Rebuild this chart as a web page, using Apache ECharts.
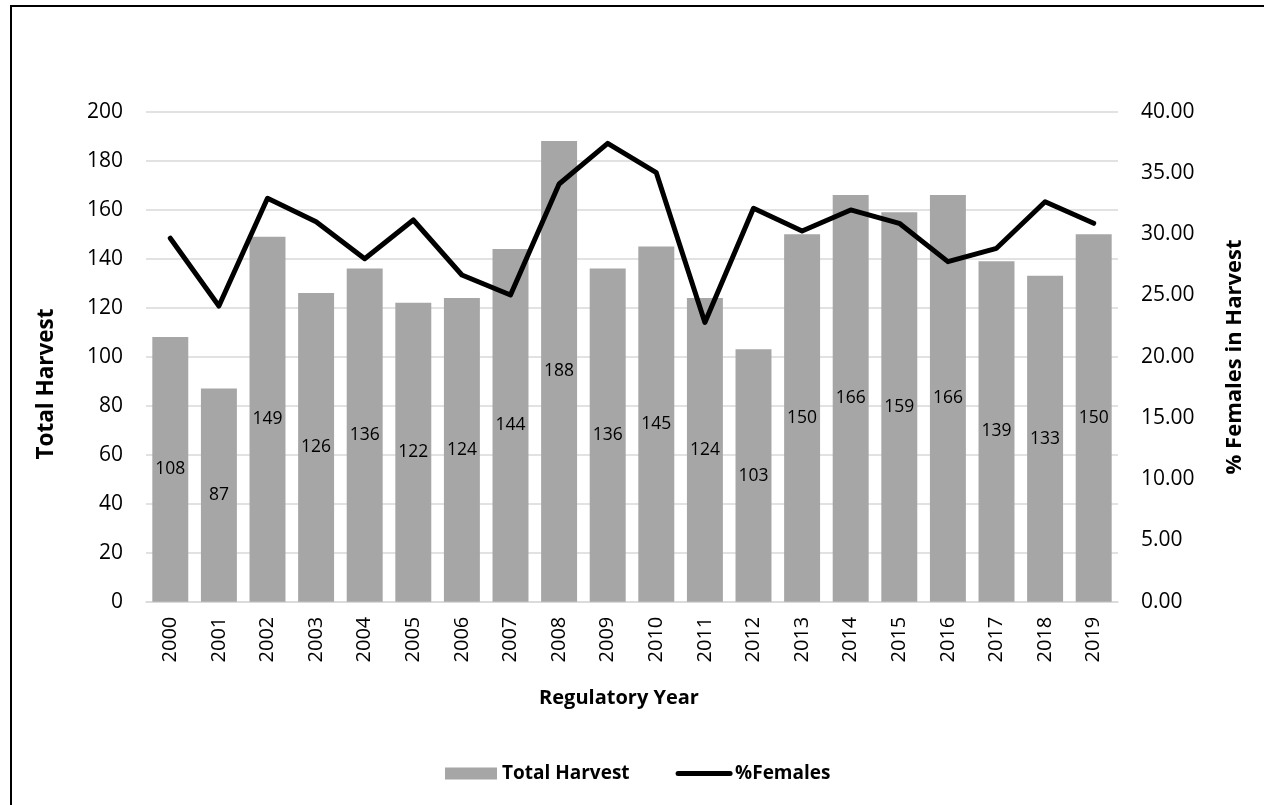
<!DOCTYPE html>
<html>
<head>
<meta charset="utf-8">
<script src="https://cdn.jsdelivr.net/npm/echarts@6/dist/echarts.min.js"></script>
<style>
  html, body { margin: 0; padding: 0; background: #fff; overflow: hidden; }
  #frame { position: absolute; left: 10px; top: 5px; width: 1400px; height: 1000px;
           border: 2px solid #000; box-sizing: border-box; }
  #chart { position: absolute; left: 0; top: 0; width: 1264px; height: 805px; }
</style>
</head>
<body>
<div id="frame"></div>
<div id="chart"></div>
<script>
// Regulatory years on the category axis
const years = ['2000','2001','2002','2003','2004','2005','2006','2007','2008','2009',
               '2010','2011','2012','2013','2014','2015','2016','2017','2018','2019'];
// Total harvest per year (bars, left axis)
const totalHarvest = [108, 87, 149, 126, 136, 122, 124, 144, 188, 136,
                      145, 124, 103, 150, 166, 159, 166, 139, 133, 150];
// Percentage of females in the harvest (line, right axis)
const pctFemales = [29.67, 24.14, 32.93, 31.02, 28.00, 31.16, 26.67, 25.04, 34.10, 37.42,
                    35.02, 22.80, 32.11, 30.26, 31.98, 30.89, 27.76, 28.85, 32.65, 30.89];

const FONT = '"Open Sans", "Noto Sans", sans-serif';
const chart = echarts.init(document.getElementById('chart'), null, { renderer: 'canvas' });

chart.setOption({
  animation: false,
  backgroundColor: 'transparent',
  textStyle: { fontFamily: FONT, color: '#000' },
  grid: { left: 146, right: 146, top: 111.7, bottom: 203.3, containLabel: false },
  legend: {
    left: 440, top: 759,
    itemGap: 46,
    itemWidth: 52, itemHeight: 12,
    textStyle: { fontFamily: FONT, fontSize: 19, fontWeight: 'bold', color: '#000' },
    data: [
      { name: 'Total Harvest', icon: 'rect' },
      { name: '%Females',
        itemStyle: { opacity: 0 },
        lineStyle: { color: '#000', width: 5, cap: 'round' } }
    ]
  },
  graphic: [
    { type: 'text', x: 47, y: 384, rotation: Math.PI / 2, silent: true,
      style: { text: 'Total Harvest', font: 'bold 22.5px ' + FONT, fill: '#000',
               textAlign: 'center', textVerticalAlign: 'middle' } },
    { type: 'text', x: 1235, y: 357, rotation: Math.PI / 2, silent: true,
      style: { text: '% Females in Harvest', font: 'bold 22px ' + FONT, fill: '#000',
               textAlign: 'center', textVerticalAlign: 'middle' } },
    { type: 'text', x: 619, y: 698, silent: true,
      style: { text: 'Regulatory Year', font: 'bold 20px ' + FONT, fill: '#000',
               textAlign: 'center', textVerticalAlign: 'middle' } }
  ],
  xAxis: {
    type: 'category',
    data: years,
    axisLine: { show: true, lineStyle: { color: '#d9d9d9', width: 1.5 } },
    axisTick: { show: false },
    axisLabel: { rotate: 90, margin: 15, fontSize: 20, fontFamily: FONT, color: '#000' }
  },
  yAxis: [
    {
      type: 'value', min: 0, max: 200, interval: 20,
      axisLine: { show: false }, axisTick: { show: false },
      splitLine: { lineStyle: { color: '#d9d9d9', width: 1.5 } },
      axisLabel: { margin: 23, fontSize: 21, fontFamily: FONT, color: '#000' }
    },
    {
      type: 'value', min: 0, max: 40, interval: 5,
      axisLine: { show: false }, axisTick: { show: false },
      splitLine: { show: false },
      axisLabel: { margin: 23, fontSize: 21, fontFamily: FONT, color: '#000',
                   formatter: v => v.toFixed(2) }
    }
  ],
  series: [
    {
      name: 'Total Harvest', type: 'bar', yAxisIndex: 0,
      data: totalHarvest,
      barWidth: '74%',
      itemStyle: { color: '#a6a6a6' },
      label: { show: true, position: 'inside', fontSize: 17.5, fontFamily: FONT, color: '#000' },
      z: 2
    },
    {
      name: '%Females', type: 'line', yAxisIndex: 1,
      data: pctFemales,
      symbol: 'none',
      lineStyle: { color: '#000', width: 5, cap: 'round', join: 'round' },
      itemStyle: { color: '#000' },
      z: 3
    }
  ]
});
</script>
</body>
</html>
